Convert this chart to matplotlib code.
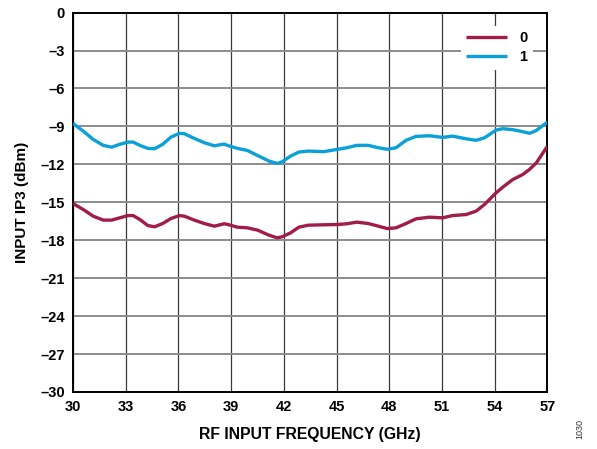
import matplotlib
matplotlib.use("Agg")
import matplotlib.pyplot as plt

plt.rcParams['font.family'] = ['Liberation Sans', 'DejaVu Sans']
plt.rcParams['font.weight'] = 'bold'

# Input IP3 vs RF frequency, two settings
freq_0 = [30.0, 30.58, 31.15, 31.72, 32.2, 32.66, 33.13, 33.42, 33.8, 34.26, 34.64, 35.1,
          35.58, 36.06, 36.34, 36.9, 37.47, 38.04, 38.6, 38.85, 39.36, 39.92, 40.5, 41.15,
          41.62, 41.9, 42.38, 42.85, 43.4, 44.26, 45.02, 45.58, 46.15, 46.8, 47.38, 47.88,
          48.38, 48.95, 49.52, 50.28, 51.04, 51.6, 52.37, 52.94, 53.42, 54.08, 54.46, 55.03,
          55.6, 55.98, 56.37, 57.0]
ip3_0 = [-15.1, -15.57, -16.1, -16.41, -16.41, -16.23, -16.05, -16.05, -16.36, -16.84, -16.94,
         -16.68, -16.28, -16.05, -16.1, -16.41, -16.68, -16.89, -16.7, -16.77, -16.97, -17.02,
         -17.2, -17.6, -17.81, -17.73, -17.42, -16.97, -16.81, -16.78, -16.76, -16.7, -16.57,
         -16.68, -16.89, -17.08, -17.02, -16.68, -16.31, -16.18, -16.23, -16.05, -15.97,
         -15.7, -15.17, -14.25, -13.8, -13.2, -12.8, -12.4, -11.88, -10.56]

freq_1 = [30.0, 30.58, 31.15, 31.72, 32.2, 32.66, 33.13, 33.42, 33.8, 34.26, 34.64, 35.1,
          35.58, 36.06, 36.34, 36.9, 37.47, 38.04, 38.6, 38.85, 39.36, 39.92, 40.5, 41.15,
          41.62, 41.9, 42.38, 42.85, 43.4, 44.26, 45.02, 45.58, 46.15, 46.8, 47.38, 47.88,
          48.38, 48.95, 49.52, 50.28, 51.04, 51.6, 52.37, 52.94, 53.42, 54.08, 54.46, 55.03,
          55.6, 55.98, 56.37, 57.0]
ip3_1 = [-8.77, -9.37, -10.03, -10.5, -10.64, -10.42, -10.24, -10.24, -10.5, -10.74, -10.77,
         -10.42, -9.84, -9.55, -9.58, -9.95, -10.29, -10.53, -10.4, -10.53, -10.74, -10.9,
         -11.3, -11.74, -11.93, -11.8, -11.35, -11.03, -10.95, -11.0, -10.82, -10.69, -10.5,
         -10.5, -10.69, -10.81, -10.69, -10.1, -9.79, -9.74, -9.87, -9.77, -9.98, -10.1,
         -9.9, -9.29, -9.18, -9.26, -9.42, -9.55, -9.32, -8.66]

series_labels = ['0', '1']
series_colors = ['#A01C4A', '#0BA0D7']

x_ticks = list(range(30, 58, 3))
y_ticks = list(range(-30, 1, 3))

fig = plt.figure(figsize=(5.97, 4.49), dpi=100)
ax = fig.add_axes([0.1223, 0.127, 0.7947, 0.845])

for fx, fy, lab, col in ((freq_0, ip3_0, series_labels[0], series_colors[0]),
                         (freq_1, ip3_1, series_labels[1], series_colors[1])):
    ax.plot(fx, fy, color=col, lw=2.4, label=lab, zorder=3,
            solid_joinstyle='round', solid_capstyle='butt')

ax.set_xlim(30, 57)
ax.set_ylim(-30, 0)
ax.set_xticks(x_ticks)
ax.set_yticks(y_ticks)
ax.set_yticklabels([f"{v}".replace('-', '\u2013') for v in y_ticks])

ax.xaxis.grid(True, color='#3a3a3a', lw=0.9, zorder=1)
ax.yaxis.grid(True, color='#8c8c8c', lw=1.4, zorder=1)
ax.set_axisbelow(True)
ax.tick_params(length=0, labelsize=10.5, pad=6)
for lbl in ax.get_xticklabels() + ax.get_yticklabels():
    lbl.set_fontweight('bold')
for sp in ax.spines.values():
    sp.set_color('black')
    sp.set_linewidth(1.4)

ax.set_xlabel('RF INPUT FREQUENCY (GHz)', fontsize=11.3, fontweight='bold', labelpad=9)
ax.set_ylabel('INPUT IP3 (dBm)', fontsize=11, fontweight='bold', labelpad=8)

leg = ax.legend(loc='upper right', bbox_to_anchor=(0.985, 0.985), frameon=True,
                fancybox=False, edgecolor='none', facecolor='white', framealpha=1,
                fontsize=10.5, handlelength=2.8, handletextpad=0.8, labelspacing=0.3,
                borderpad=0.4)
for t in leg.get_texts():
    t.set_fontweight('bold')

fig.text(0.972, 0.045, '1030', rotation=90, fontsize=6.5, fontweight='normal',
         color='#333333', ha='center', va='center')

fig.savefig('out.png', dpi=100)
